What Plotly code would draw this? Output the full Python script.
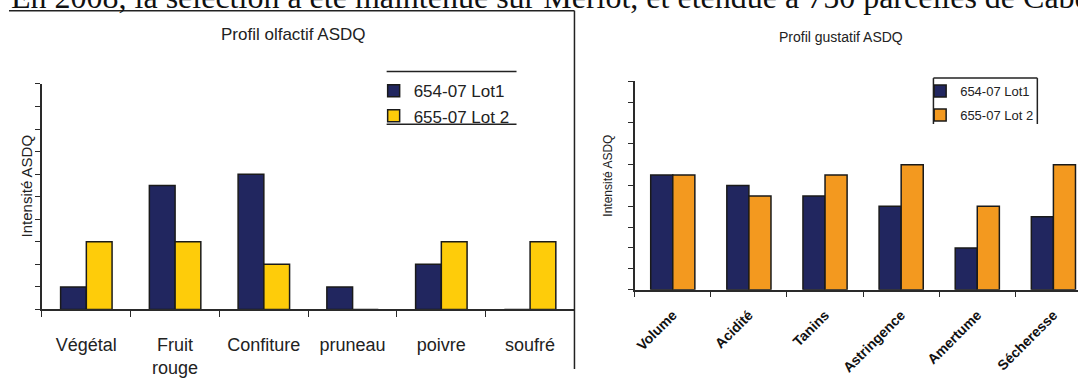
import plotly.graph_objects as go

W, H = 1078, 378

# ---------------- data ----------------
olf_categories = ["Végétal", "Fruit<br>rouge", "Confiture", "pruneau", "poivre", "soufré"]
olf_lot1 = [1, 5.5, 6, 1, 2, 0]
olf_lot2 = [3, 3, 2, 0, 3, 3]

gus_categories = ["Volume", "Acidité", "Tanins", "Astringence", "Amertume", "Sécheresse"]
gus_lot1 = [5.5, 5, 4.5, 4, 2, 3.5]
gus_lot2 = [5.5, 4.5, 5.5, 6, 4, 6]

series_names = ["654-07 Lot1", "655-07 Lot 2"]

NAVY = "#21265f"
YELLOW = "#fecc0a"
ORANGE = "#f3991f"
EDGE = "#1a1a1a"
FONT = "Liberation Sans, Arial, sans-serif"


def px_x(v):
    return v / W


def px_y(v):
    return 1 - v / H


fig = go.Figure()

fig.add_trace(go.Bar(x=olf_categories, y=olf_lot1, name=series_names[0],
                     marker=dict(color=NAVY, line=dict(color=EDGE, width=1.5)),
                     xaxis="x", yaxis="y", legend="legend", legendgroup="a"))
fig.add_trace(go.Bar(x=olf_categories, y=olf_lot2, name=series_names[1],
                     marker=dict(color=YELLOW, line=dict(color=EDGE, width=1.5)),
                     xaxis="x", yaxis="y", legend="legend", legendgroup="b"))
fig.add_trace(go.Bar(x=gus_categories, y=gus_lot1, name=series_names[0],
                     marker=dict(color=NAVY, line=dict(color=EDGE, width=1.5)),
                     xaxis="x2", yaxis="y2", legend="legend2", legendgroup="c"))
fig.add_trace(go.Bar(x=gus_categories, y=gus_lot2, name=series_names[1],
                     marker=dict(color=ORANGE, line=dict(color=EDGE, width=1.5)),
                     xaxis="x2", yaxis="y2", legend="legend2", legendgroup="d"))

axis_common = dict(showgrid=False, zeroline=False, showline=True,
                   linecolor="#2a2a2a", linewidth=1.5, ticks="outside",
                   tickcolor="#2a2a2a", tickwidth=1)

fig.update_layout(
    width=W, height=H,
    margin=dict(l=0, r=0, t=0, b=0),
    paper_bgcolor="white", plot_bgcolor="white",
    barmode="group", bargap=0.42, bargroupgap=0,
    font=dict(family=FONT, color="#222"),
    xaxis=dict(domain=[px_x(41), px_x(574)], anchor="y", range=[-0.5, 5.5],
               tickson="boundaries", ticklen=6, ticklabelstandoff=18,
               tickfont=dict(size=18, color="#222"), **axis_common),
    yaxis=dict(domain=[px_y(317), px_y(86)], anchor="x", range=[0, 10], dtick=1,
               ticklen=5, showticklabels=False, **axis_common),
    xaxis2=dict(domain=[px_x(634.3), 1], anchor="y2", range=[-0.5, 5.323],
                tickson="boundaries", ticklen=6, tickangle=-45, ticklabelstandoff=10,
                tickfont=dict(size=14, color="#111", family=FONT, weight="bold"),
                **axis_common),
    yaxis2=dict(domain=[px_y(296.7), px_y(83.3)], anchor="x2", range=[0, 10], dtick=1,
                ticklen=5, showticklabels=False, **axis_common),
    legend=dict(x=px_x(373), y=px_y(75), xanchor="left", yanchor="top",
                bgcolor="rgba(0,0,0,0)", borderwidth=0,
                font=dict(size=17, color="#222"), tracegroupgap=0),
    legend2=dict(x=px_x(920), y=px_y(78), xanchor="left", yanchor="top",
                 bgcolor="rgba(0,0,0,0)", borderwidth=0,
                 font=dict(size=13, color="#222"), tracegroupgap=4),
    showlegend=True,
)

annotations = [
    dict(text="En 2008, la sélection a été maintenue sur Merlot, et étendue à 750 parcelles de Cabernet",
         x=px_x(8), y=px_y(-3.5), xref="paper", yref="paper", xanchor="left", yanchor="middle",
         showarrow=False, font=dict(family="Liberation Serif, Times New Roman, serif", size=32, color="#111")),
    dict(text="Profil olfactif ASDQ", x=px_x(293), y=px_y(35.5), xref="paper", yref="paper",
         xanchor="center", yanchor="middle", showarrow=False, font=dict(size=17, color="#222")),
    dict(text="Profil gustatif ASDQ", x=px_x(840.5), y=px_y(37.5), xref="paper", yref="paper",
         xanchor="center", yanchor="middle", showarrow=False, font=dict(size=14, color="#222")),
    dict(text="Intensité ASDQ", x=px_x(25), y=px_y(190), xref="paper", yref="paper",
         xanchor="center", yanchor="middle", textangle=-90, showarrow=False,
         font=dict(size=15, color="#222")),
    dict(text="Intensité ASDQ", x=px_x(607.5), y=px_y(180), xref="paper", yref="paper",
         xanchor="center", yanchor="middle", textangle=-90, showarrow=False,
         font=dict(size=12, color="#222")),
]
fig.update_layout(annotations=annotations)

line_style = dict(color="#222", width=1.5)
shapes = [
    # frame around left chart (top and right edges)
    dict(type="line", xref="paper", yref="paper", x0=px_x(8), x1=px_x(574), y0=px_y(11), y1=px_y(11), line=line_style),
    dict(type="line", xref="paper", yref="paper", x0=px_x(574), x1=px_x(574), y0=px_y(11), y1=0, line=line_style),
    # left legend rules
    dict(type="line", xref="paper", yref="paper", x0=px_x(386), x1=px_x(516), y0=px_y(73.3), y1=px_y(73.3), line=line_style),
    dict(type="line", xref="paper", yref="paper", x0=px_x(386), x1=px_x(516), y0=px_y(127.3), y1=px_y(127.3), line=line_style),
    # right legend box (open at bottom)
    dict(type="line", xref="paper", yref="paper", x0=px_x(933.3), x1=px_x(933.3), y0=px_y(80), y1=px_y(127), line=line_style),
    dict(type="line", xref="paper", yref="paper", x0=px_x(933.3), x1=px_x(1037.3), y0=px_y(80), y1=px_y(80), line=line_style),
    dict(type="line", xref="paper", yref="paper", x0=px_x(1037.3), x1=px_x(1037.3), y0=px_y(80), y1=px_y(127), line=line_style),
]
fig.update_layout(shapes=shapes)

fig.write_html("out.html", config={"displayModeBar": False},
               post_script="document.body.style.margin='0';document.body.style.overflow='hidden';")
